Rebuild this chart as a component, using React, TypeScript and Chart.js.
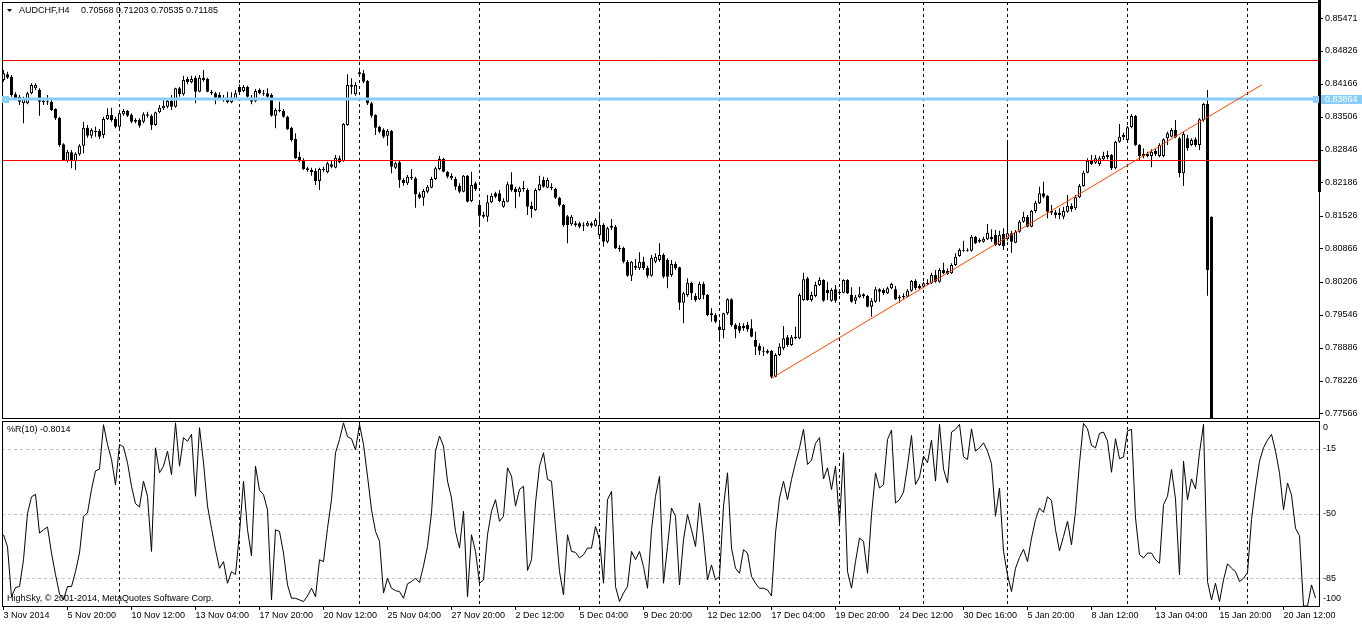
import React, { useEffect, useRef } from "react";
import { Chart, registerables } from "chart.js";

Chart.register(...registerables);

// ---------------- data (AUDCHF H4) ----------------
const opens = [
  0.84246,0.84359,0.84313,0.83959,0.83913,0.83779,0.83779,0.83979,0.84079,0.84046,
  0.83826,0.83813,0.83813,0.83666,0.83493,0.82959,0.82626,0.82799,0.82626,0.82759,
  0.82933,0.83293,0.83133,0.83226,0.83226,0.83146,0.83466,0.83546,0.83466,0.83313,
  0.83559,0.83626,0.83546,0.83446,0.83446,0.83413,0.83559,0.83533,0.83346,0.83599,
  0.83679,0.83713,0.83826,0.83713,0.84079,0.83959,0.84266,0.84199,0.84293,0.84013,
  0.84293,0.84266,0.84013,0.83979,0.83946,0.83893,0.83893,0.83799,0.83866,0.84106,
  0.84026,0.84106,0.83893,0.83826,0.84046,0.83979,0.83979,0.83946,0.83533,0.83646,
  0.83626,0.83513,0.83293,0.83066,0.82713,0.82646,0.82479,0.82446,0.82426,0.82226,
  0.82466,0.82399,0.82559,0.82493,0.82679,0.82626,0.83346,0.84146,0.83959,0.84359,
  0.84379,0.84226,0.83779,0.83546,0.83313,0.83246,0.83133,0.83226,0.82493,0.82599,
  0.82246,0.82179,0.82313,0.82279,0.81959,0.81893,0.82013,0.82093,0.82266,0.82466,
  0.82666,0.82413,0.82333,0.82266,0.82133,0.82013,0.82333,0.81826,0.82179,0.81746,
  0.81546,0.81513,0.81799,0.81979,0.81979,0.81713,0.81813,0.82159,0.82066,0.81999,
  0.82066,0.82046,0.81733,0.81646,0.82046,0.82246,0.82093,0.82113,0.82066,0.81893,
  0.81746,0.81519,0.81359,0.81379,0.81379,0.81346,0.81333,0.81379,0.81333,0.81146,
  0.81346,0.81013,0.81333,0.81313,0.80893,0.80893,0.80613,0.80333,0.80533,0.80479,
  0.80613,0.80493,0.80333,0.80613,0.80646,0.80746,0.80646,0.80346,0.80566,0.80499,
  0.79793,0.79946,0.80193,0.79926,0.79859,0.80166,0.79946,0.79579,0.79546,0.79313,
  0.79246,0.79579,0.79859,0.79346,0.79326,0.79326,0.79346,0.79279,0.79046,0.78926,
  0.78833,0.78833,0.78833,0.78313,0.78746,0.78879,0.79099,0.78946,0.79113,0.79079,
  0.79846,0.80279,0.79846,0.79926,0.80146,0.80246,0.80046,0.79833,0.80059,0.80013,
  0.79993,0.80246,0.79946,0.79833,0.79899,0.79959,0.79926,0.79713,0.79813,0.80059,
  0.80046,0.79979,0.80079,0.80059,0.79913,0.79926,0.79913,0.80033,0.80226,0.80126,
  0.80113,0.80166,0.80179,0.80346,0.80213,0.80446,0.80426,0.80379,0.80546,0.80726,
  0.80846,0.80846,0.80833,0.81113,0.81046,0.81013,0.81059,0.81113,0.81146,0.80946,
  0.81166,0.81059,0.81179,0.80993,0.81213,0.81413,0.81513,0.81313,0.81626,0.81779,
  0.81979,0.81926,0.81626,0.81599,0.81593,0.81513,0.81613,0.81726,0.81679,0.81899,
  0.82126,0.82393,0.82633,0.82593,0.82566,0.82659,0.82746,0.82746,0.82479,0.83013,
  0.83099,0.83046,0.83299,0.83526,0.82946,0.82726,0.82766,0.82726,0.82833,0.82726,
  0.82726,0.83079,0.83113,0.83246,0.83079,0.82379,0.83079,0.82946,0.83059,0.82946,
  0.83446,0.83766,0.81513,0.72000,0.72500,0.72000,0.71800,0.71500,0.71200,0.71000,
  0.70800,0.70900,0.71000,0.71600,0.72000,0.72300,0.72500,0.72600,0.72700,0.72500,
  0.72200,0.71700,0.71900,0.71600,0.71200,0.71100,0.70600,0.70570,0.70568,
];

const highs = [
  0.84446,0.84413,0.84346,0.83999,0.83946,0.83913,0.84013,0.84179,0.84179,0.84079,
  0.83893,0.83946,0.83846,0.83679,0.83513,0.82979,0.82846,0.82846,0.82799,0.82959,
  0.83413,0.83346,0.83279,0.83313,0.83266,0.83513,0.83679,0.83693,0.83513,0.83613,
  0.83666,0.83646,0.83579,0.83479,0.83479,0.83599,0.83613,0.83559,0.83613,0.83746,
  0.83879,0.83879,0.83946,0.84093,0.84113,0.84333,0.84313,0.84333,0.84333,0.84346,
  0.84446,0.84293,0.84046,0.84013,0.83999,0.83946,0.84013,0.83999,0.84046,0.84159,
  0.84146,0.84133,0.83946,0.84066,0.84079,0.84046,0.84079,0.83979,0.83679,0.83813,
  0.83666,0.83533,0.83313,0.83179,0.82813,0.82679,0.82513,0.82493,0.82479,0.82493,
  0.82513,0.82613,0.82626,0.82746,0.82733,0.83379,0.84359,0.84279,0.84199,0.84446,
  0.84446,0.84246,0.83813,0.83559,0.83333,0.83279,0.83266,0.83246,0.82613,0.82626,
  0.82279,0.82346,0.82466,0.82313,0.81999,0.82066,0.82146,0.82313,0.82513,0.82726,
  0.82693,0.82426,0.82379,0.82313,0.82179,0.82346,0.82346,0.82413,0.82213,0.81813,
  0.81613,0.81946,0.81979,0.82013,0.82046,0.81879,0.82213,0.82399,0.82113,0.82113,
  0.82226,0.82079,0.81813,0.82079,0.82333,0.82313,0.82293,0.82179,0.82093,0.81913,
  0.81766,0.81546,0.81546,0.81426,0.81413,0.81399,0.81426,0.81413,0.81479,0.81546,
  0.81379,0.81313,0.81466,0.81346,0.80946,0.80913,0.80646,0.80626,0.80666,0.80799,
  0.80713,0.80533,0.80746,0.80779,0.80979,0.80779,0.80679,0.80646,0.80613,0.80513,
  0.80013,0.80279,0.80213,0.79979,0.80213,0.80213,0.79966,0.79679,0.79579,0.79379,
  0.79593,0.79879,0.79879,0.79379,0.79393,0.79379,0.79413,0.79459,0.79213,0.78979,
  0.78913,0.78859,0.78846,0.78779,0.78979,0.79326,0.79146,0.79146,0.79313,0.79979,
  0.80393,0.80313,0.80013,0.80213,0.80299,0.80259,0.80213,0.80079,0.80146,0.80059,
  0.80259,0.80259,0.80099,0.79946,0.80113,0.79979,0.79946,0.79879,0.80113,0.80079,
  0.80079,0.80113,0.80193,0.80126,0.79946,0.79979,0.80059,0.80246,0.80259,0.80166,
  0.80213,0.80259,0.80393,0.80446,0.80479,0.80593,0.80479,0.80579,0.80779,0.80879,
  0.81033,0.80879,0.81146,0.81126,0.81079,0.81113,0.81366,0.81259,0.81246,0.81233,
  0.81279,0.83046,0.81233,0.81246,0.81446,0.81613,0.81546,0.81646,0.81833,0.82113,
  0.82213,0.81946,0.81746,0.81646,0.81679,0.81713,0.81946,0.81779,0.81946,0.82166,
  0.82433,0.82679,0.82746,0.82746,0.82726,0.82813,0.82833,0.82766,0.83033,0.83366,
  0.83193,0.83326,0.83566,0.83546,0.82966,0.82879,0.82813,0.82859,0.82879,0.82979,
  0.83079,0.83213,0.83279,0.83446,0.83113,0.83213,0.83146,0.83079,0.83099,0.83479,
  0.83793,0.84046,0.81520,0.73500,0.73200,0.72800,0.72500,0.72200,0.72000,0.71800,
  0.71500,0.71400,0.71800,0.72200,0.72500,0.72700,0.72900,0.73000,0.72900,0.72700,
  0.72400,0.72100,0.72000,0.71700,0.71400,0.71200,0.70800,0.71100,0.71203,
];

const lows = [
  0.84213,0.84266,0.83913,0.83846,0.83746,0.83379,0.83759,0.83959,0.84046,0.83533,
  0.83746,0.83746,0.83626,0.83446,0.82913,0.82626,0.82599,0.82479,0.82446,0.82733,
  0.82779,0.83093,0.83079,0.83113,0.83066,0.83079,0.83446,0.83413,0.83279,0.83279,
  0.83533,0.83506,0.83379,0.83379,0.83293,0.83379,0.83493,0.83246,0.83333,0.83579,
  0.83646,0.83679,0.83646,0.83693,0.83913,0.83933,0.84159,0.84179,0.83779,0.83999,
  0.84213,0.83999,0.83946,0.83759,0.83846,0.83813,0.83779,0.83779,0.83846,0.83959,
  0.83999,0.83893,0.83759,0.83799,0.83959,0.83933,0.83893,0.83513,0.83279,0.83599,
  0.83493,0.83246,0.83013,0.82666,0.82599,0.82446,0.82413,0.82333,0.82146,0.82046,
  0.82399,0.82379,0.82479,0.82479,0.82579,0.82613,0.83333,0.83959,0.83933,0.84333,
  0.84179,0.83746,0.83493,0.83146,0.83179,0.83079,0.82933,0.82379,0.82466,0.82093,
  0.82133,0.82146,0.82246,0.81693,0.81866,0.81733,0.81979,0.82079,0.82246,0.82446,
  0.82399,0.82279,0.82246,0.82046,0.81979,0.81999,0.81799,0.81799,0.82026,0.81313,
  0.81479,0.81413,0.81779,0.81879,0.81799,0.81693,0.81799,0.82013,0.81679,0.81913,
  0.82013,0.81546,0.81493,0.81626,0.82026,0.82093,0.82079,0.82046,0.81866,0.81713,
  0.81313,0.80979,0.81333,0.81313,0.81279,0.81226,0.81313,0.81293,0.81313,0.81113,
  0.80913,0.80979,0.81246,0.80866,0.80813,0.80579,0.80313,0.80226,0.80446,0.80446,
  0.80446,0.80293,0.80313,0.80579,0.80613,0.80279,0.80079,0.80313,0.80446,0.79646,
  0.79379,0.79913,0.79846,0.79813,0.79846,0.79859,0.79526,0.79413,0.79379,0.79013,
  0.79079,0.79546,0.79313,0.79079,0.79179,0.79233,0.79213,0.79099,0.78746,0.78746,
  0.78726,0.78766,0.78279,0.78299,0.78726,0.78846,0.78913,0.78926,0.79059,0.79059,
  0.79833,0.79833,0.79813,0.79899,0.80126,0.79813,0.79846,0.79813,0.79793,0.79946,
  0.79979,0.79966,0.79793,0.79766,0.79879,0.79879,0.79699,0.79513,0.79793,0.79813,
  0.79946,0.79966,0.80059,0.79846,0.79793,0.79859,0.79899,0.80013,0.80046,0.80059,
  0.80079,0.80146,0.80166,0.80193,0.80193,0.80359,0.80346,0.80366,0.80526,0.80713,
  0.80813,0.80813,0.80813,0.80966,0.80993,0.80993,0.81046,0.81013,0.80926,0.80926,
  0.80846,0.81033,0.80793,0.80979,0.81193,0.81393,0.81299,0.81299,0.81593,0.81766,
  0.81879,0.81479,0.81546,0.81479,0.81459,0.81459,0.81593,0.81613,0.81646,0.81879,
  0.82113,0.82379,0.82546,0.82566,0.82526,0.82646,0.82659,0.82446,0.82459,0.82993,
  0.83046,0.83033,0.83279,0.82926,0.82646,0.82679,0.82699,0.82499,0.82726,0.82699,
  0.82699,0.82946,0.83099,0.83079,0.82299,0.82126,0.82833,0.82926,0.82913,0.82846,
  0.83413,0.79933,0.70000,0.69500,0.71500,0.71200,0.71000,0.70800,0.70500,0.70400,
  0.70300,0.70400,0.70800,0.71300,0.71700,0.72000,0.72200,0.72300,0.72300,0.72000,
  0.71500,0.71500,0.71400,0.71000,0.70800,0.70500,0.70400,0.70500,0.70535,
];

const closes = [
  0.84379,0.84293,0.83946,0.83879,0.83813,0.83879,0.83979,0.84146,0.84146,0.83813,
  0.83799,0.83799,0.83646,0.83479,0.82946,0.82646,0.82813,0.82646,0.82773,0.82933,
  0.83293,0.83133,0.83246,0.83199,0.83113,0.83466,0.83546,0.83446,0.83313,0.83579,
  0.83626,0.83533,0.83413,0.83413,0.83333,0.83559,0.83533,0.83346,0.83599,0.83693,
  0.83733,0.83826,0.83713,0.84079,0.83959,0.84246,0.84199,0.84266,0.84013,0.84293,
  0.84246,0.84013,0.83979,0.83893,0.83879,0.83866,0.83799,0.83879,0.83979,0.83999,
  0.84106,0.83913,0.83813,0.84026,0.83979,0.83959,0.83913,0.83533,0.83646,0.83626,
  0.83513,0.83266,0.83046,0.82679,0.82626,0.82466,0.82446,0.82399,0.82226,0.82466,
  0.82446,0.82579,0.82513,0.82693,0.82599,0.83366,0.84146,0.84113,0.84146,0.84399,
  0.84213,0.83779,0.83533,0.83293,0.83213,0.83113,0.83226,0.82513,0.82579,0.82246,
  0.82179,0.82313,0.82279,0.81959,0.81893,0.82026,0.82113,0.82266,0.82479,0.82666,
  0.82413,0.82313,0.82279,0.82113,0.82013,0.82333,0.81813,0.82146,0.82066,0.81533,
  0.81513,0.81799,0.81933,0.81913,0.81826,0.81826,0.82159,0.82046,0.81999,0.82079,
  0.82079,0.81713,0.81666,0.82046,0.82159,0.82113,0.82246,0.82079,0.81893,0.81746,
  0.81346,0.81346,0.81513,0.81346,0.81313,0.81333,0.81393,0.81333,0.81446,0.81346,
  0.81013,0.81279,0.81293,0.80879,0.80866,0.80613,0.80333,0.80613,0.80493,0.80613,
  0.80479,0.80333,0.80693,0.80713,0.80746,0.80313,0.80313,0.80566,0.80479,0.79793,
  0.79979,0.80193,0.79979,0.79846,0.80166,0.79946,0.79546,0.79546,0.79413,0.79246,
  0.79579,0.79859,0.79346,0.79259,0.79233,0.79279,0.79259,0.79113,0.78913,0.78833,
  0.78813,0.78793,0.78313,0.78746,0.78913,0.79079,0.78946,0.79099,0.79079,0.79946,
  0.80259,0.79846,0.79946,0.80146,0.80246,0.79833,0.79979,0.80046,0.79833,0.79979,
  0.80246,0.79979,0.79813,0.79899,0.79959,0.79926,0.79713,0.79833,0.80059,0.80013,
  0.79979,0.80079,0.80166,0.79859,0.79879,0.79899,0.80033,0.80226,0.80079,0.80079,
  0.80179,0.80193,0.80346,0.80213,0.80446,0.80379,0.80366,0.80546,0.80713,0.80846,
  0.80833,0.80833,0.81113,0.80979,0.81013,0.81073,0.81193,0.81059,0.80946,0.81146,
  0.80926,0.81179,0.81013,0.81213,0.81413,0.81513,0.81313,0.81626,0.81793,0.81979,
  0.81913,0.81613,0.81593,0.81546,0.81546,0.81626,0.81726,0.81659,0.81899,0.82126,
  0.82393,0.82633,0.82566,0.82679,0.82679,0.82726,0.82699,0.82479,0.83013,0.83113,
  0.83146,0.83299,0.83526,0.82946,0.82726,0.82766,0.82726,0.82813,0.82766,0.82946,
  0.83059,0.83179,0.83246,0.83099,0.82379,0.83166,0.82879,0.83046,0.82946,0.83459,
  0.83766,0.80446,0.72000,0.72500,0.72000,0.71800,0.71500,0.71200,0.71000,0.70800,
  0.70900,0.71000,0.71600,0.72000,0.72300,0.72500,0.72600,0.72700,0.72500,0.72200,
  0.71700,0.71900,0.71600,0.71200,0.71100,0.70600,0.70570,0.71000,0.71185,
];

// Williams %R(10)
const wpr = [
  -61.5,-68,-95,-90,-89.5,-75,-50,-41,-39.6,-60.6,
  -58.8,-57.3,-71.4,-83,-93.5,-96.7,-89.5,-89.5,-81.4,-71.4,
  -51.5,-49.7,-37,-27,-26,-2,-12.7,-20.8,-34.4,-12.7,
  -14,-22.6,-35.3,-44.7,-46.5,-32.5,-40.7,-70.5,-14.5,-28,
  -24.4,-16.3,-29,-1,-24.4,-9,-11,-7.2,-40.7,-3.6,
  -22.6,-46,-58,-69.6,-79.6,-76,-87.7,-81.4,-83,-60.6,
  -32.5,-58.8,-72.9,-24.4,-37.4,-39.8,-48,-96.7,-58.8,-59.7,
  -71.4,-88.6,-95.8,-95.8,-96.7,-97.6,-94.6,-90.4,-95,-75,
  -76,-58,-42.5,-17.2,-10,-1,-8.5,-9.6,-15.7,-1.8,
  -12.7,-29.8,-48,-59.7,-65,-93,-85,-90.4,-91.7,-92.2,
  -95.8,-88,-86.8,-85,-87.3,-78.3,-67.8,-49.7,-16.3,-8.1,
  -13.6,-32.5,-41.6,-59.7,-68.7,-48.8,-95,-61.5,-70.5,-87.7,
  -85.9,-61.5,-48.8,-42.5,-54.2,-51.5,-25.3,-29.8,-46,-37,
  -35.3,-80.8,-75,-44.3,-24.4,-17.2,-31.6,-32.5,-57,-81.4,
  -94,-61.5,-70.5,-71,-74,-72.3,-68.7,-68.7,-57,-64,
  -87.7,-42.5,-38,-89.5,-97.6,-93,-89.5,-70.5,-75,-70.5,
  -78.7,-90.4,-58.8,-40.7,-30,-87.7,-67.8,-47,-51.5,-88.6,
  -64.2,-50.6,-58.8,-67.8,-44.3,-63.3,-85.9,-77.8,-85.9,-84,
  -46,-28,-68.7,-79.6,-82.3,-69.6,-71.4,-84,-87.7,-90.4,
  -90.4,-91.3,-94.6,-60.6,-41.6,-32.5,-42.5,-31.6,-22.6,-14.5,
  -4.5,-23.5,-21.2,-12.1,-9,-31.3,-25.3,-37,-24.4,-55,
  -17.2,-81.4,-90.4,-76,-63.3,-65,-82.3,-50.6,-28,-36.2,
  -34.4,-10,-4.9,-44.3,-42.5,-38.5,-24.4,-7.8,-34.4,-30.2,
  -19,-22.6,-10.3,-32.5,-1.8,-25.9,-33.5,-6,-4.5,-1.8,
  -19.4,-20.8,-4.2,-16.3,-14.5,-11.8,-16.3,-23.1,-51.5,-36.2,
  -70.5,-83.2,-92.2,-79.6,-73.8,-69.3,-76,-63.3,-53.3,-47,
  -49.4,-41,-42.9,-58.8,-70.2,-62.4,-54.2,-66.9,-48.8,-22.6,
  -1.3,-4.2,-13.2,-14.5,-6.7,-6,-10.8,-27.7,-9.6,-20.4,
  -19.4,-5.4,-4.5,-52.4,-72.3,-74,-71.4,-71.4,-75,-76.9,
  -45.2,-40.7,-26.2,-42.1,-83.2,-21.7,-42.5,-31.3,-36.7,-17.2,
  -1.8,-86.8,-96.7,-87.7,-97.6,-85.9,-77.2,-79.6,-81.4,-86.8,
  -85,-81.9,-53.3,-36.2,-21.7,-14.5,-10.3,-7.2,-16.3,-28,
  -48,-33.5,-40,-58,-62,-100,-100,-88.6,-95.6,
];

// time axis labels, one every 16 bars
const xLabels = [
  "3 Nov 2014", "5 Nov 20:00", "10 Nov 12:00", "13 Nov 04:00", "17 Nov 20:00",
  "20 Nov 12:00", "25 Nov 04:00", "27 Nov 20:00", "2 Dec 12:00", "5 Dec 04:00",
  "9 Dec 20:00", "12 Dec 12:00", "17 Dec 04:00", "19 Dec 20:00", "24 Dec 12:00",
  "30 Dec 16:00", "5 Jan 20:00", "8 Jan 12:00", "13 Jan 04:00", "15 Jan 20:00",
  "20 Jan 12:00",
];
const LABEL_STEP = 16;

// bar indices of the dotted period separators
const separatorBars = [29, 59, 89, 119, 149, 179, 209, 230, 251, 281, 311];

// price axis
const priceTicks = [
  0.77566, 0.78226, 0.78886, 0.79546, 0.80206, 0.80866, 0.81526,
  0.82186, 0.82846, 0.83506, 0.84166, 0.84826, 0.85471,
];
const priceMin = 0.77486;
const priceMax = 0.85806;

// drawn objects
const redLevels = [0.84636, 0.82636];
const blueLevel = 0.83864;
const trendBars = [192, 314.6];
const trendPrices = [0.7828, 0.8415];

// %R axis
const wprTicks = [0, -15, -50, -85, -100];
const wprLevels = [-15, -50, -85];

const headerSymbol = "AUDCHF,H4";
const headerPrices = "0.70568 0.71203 0.70535 0.71185";
const wprTitle = "%R(10) -0.8014";
const copyright = "HighSky, \u00A9 2001-2014, MetaQuotes Software Corp.";

// ---------------- layout / style ----------------
const FONT = "'Liberation Sans', Arial, sans-serif";
const W = 1362;
const TOP_H = 420;
const BOT_H = 204;
const AXIS_W = 43;
const X_MIN = -0.375;
const X_MAX = 328.875;
const BLUE = "#87CEFA";

Chart.defaults.font.family = FONT;

function drawSeparators(chart: any) {
  const { ctx, chartArea: a, scales } = chart;
  const x = scales.x;
  ctx.save();
  ctx.beginPath();
  ctx.rect(a.left, a.top, a.right - a.left, a.bottom - a.top);
  ctx.clip();
  ctx.strokeStyle = "#000";
  ctx.lineWidth = 1;
  ctx.setLineDash([3, 3]);
  for (const b of separatorBars) {
    const px = Math.floor(x.getPixelForValue(b)) + 0.5;
    ctx.beginPath();
    ctx.moveTo(px, a.top);
    ctx.lineTo(px, a.bottom);
    ctx.stroke();
  }
  ctx.restore();
}

function drawFrame(chart: any) {
  const { ctx, chartArea: a } = chart;
  ctx.save();
  ctx.strokeStyle = "#000";
  ctx.lineWidth = 1;
  ctx.setLineDash([]);
  const l = Math.round(a.left), t = Math.round(a.top);
  const r = Math.round(a.right), b = Math.round(a.bottom);
  ctx.strokeRect(l + 0.5, t + 0.5, r - l, b - t);
  ctx.restore();
}

const mainDeco = {
  id: "mainDeco",
  beforeDatasetsDraw(chart: any) {
    drawSeparators(chart);
  },
  afterDraw(chart: any) {
    const { ctx, chartArea: a, scales } = chart;
    const y = scales.y;
    drawFrame(chart);
    ctx.save();
    // thick part of the price-scale border
    ctx.fillStyle = "#000";
    ctx.fillRect(Math.round(a.right) - 1, 0, 3, 192);
    // blue line markers and price label
    const yb = Math.round(y.getPixelForValue(blueLevel));
    ctx.fillStyle = BLUE;
    ctx.fillRect(Math.round(a.left), yb - 3, 7, 7);
    ctx.fillRect(Math.round(a.right) - 6, yb - 3, 6, 7);
    ctx.fillRect(Math.round(a.right) + 2, yb - 4, W - Math.round(a.right) - 2, 9);
    ctx.fillStyle = "#fff";
    ctx.fillRect(Math.round(a.left) + 3, yb, 1, 1);
    ctx.fillRect(Math.round(a.right) - 3, yb, 1, 1);
    ctx.font = `9px ${FONT}`;
    ctx.textBaseline = "middle";
    ctx.textAlign = "left";
    ctx.fillText(blueLevel.toFixed(5), Math.round(a.right) + 6, yb + 1);
    // header
    ctx.fillStyle = "#000";
    ctx.beginPath();
    ctx.moveTo(7, 9);
    ctx.lineTo(12, 9);
    ctx.lineTo(9.5, 12);
    ctx.closePath();
    ctx.fill();
    ctx.fillText(headerSymbol, 19, 11);
    ctx.fillText(headerPrices, 81, 11);
    ctx.restore();
  },
};

const wprDeco = {
  id: "wprDeco",
  beforeDatasetsDraw(chart: any) {
    const { ctx, chartArea: a, scales } = chart;
    const y = scales.y;
    ctx.save();
    ctx.strokeStyle = "#c0c0c0";
    ctx.lineWidth = 1;
    ctx.setLineDash([3, 3]);
    for (const v of wprLevels) {
      const py = Math.round(y.getPixelForValue(v)) + 0.5;
      ctx.beginPath();
      ctx.moveTo(a.left, py);
      ctx.lineTo(a.right, py);
      ctx.stroke();
    }
    ctx.restore();
    drawSeparators(chart);
  },
  afterDraw(chart: any) {
    const { ctx, chartArea: a, scales } = chart;
    const y = scales.y;
    drawFrame(chart);
    ctx.save();
    ctx.fillStyle = "#000";
    ctx.font = `9px ${FONT}`;
    ctx.textBaseline = "middle";
    ctx.textAlign = "left";
    for (const v of wprTicks) {
      let py = y.getPixelForValue(v);
      py = Math.max(a.top + 7, Math.min(a.bottom - 7, py));
      ctx.fillText(String(v), Math.round(a.right) + 4, py);
    }
    ctx.fillText(wprTitle, 7, 10);
    ctx.fillText(copyright, 7, 179);
    ctx.restore();
  },
};

function mainConfig(): any {
  const n = Math.min(opens.length, highs.length, lows.length, closes.length);
  const idx = Array.from({ length: n }, (_, i) => i);
  return {
    type: "bar",
    data: {
      datasets: [
        {
          type: "bar",
          data: idx.map((i) => ({ x: i, y: [lows[i], highs[i]] })),
          backgroundColor: "#000",
          borderWidth: 0,
          barThickness: 1,
          grouped: false,
          inflateAmount: 0,
          clip: 0,
          order: 3,
        },
        {
          type: "bar",
          data: idx.map((i) => ({ x: i, y: [opens[i], closes[i]] })),
          backgroundColor: idx.map((i) => (closes[i] > opens[i] ? "#fff" : "#000")),
          borderColor: "#000",
          borderWidth: 1,
          borderSkipped: false,
          barThickness: 3,
          grouped: false,
          inflateAmount: 0,
          minBarLength: 1,
          clip: 0,
          order: 2,
        },
        ...redLevels.map((v) => ({
          type: "line",
          data: [{ x: X_MIN, y: v }, { x: X_MAX, y: v }],
          borderColor: "#ff0000",
          borderWidth: 1,
          pointRadius: 0,
          order: 1,
        })),
        {
          type: "line",
          data: [{ x: X_MIN, y: blueLevel }, { x: X_MAX, y: blueLevel }],
          borderColor: BLUE,
          borderWidth: 3,
          pointRadius: 0,
          order: 1,
        },
        {
          type: "line",
          data: trendBars.map((b, k) => ({ x: b, y: trendPrices[k] })),
          borderColor: "#ff4500",
          borderWidth: 1,
          pointRadius: 0,
          order: 0,
        },
      ],
    },
    options: {
      animation: false,
      responsive: false,
      devicePixelRatio: 1,
      events: [],
      layout: { padding: { left: 2, top: 2, right: 0, bottom: 2 } },
      plugins: { legend: { display: false }, tooltip: { enabled: false } },
      scales: {
        x: { type: "linear", min: X_MIN, max: X_MAX, offset: false, display: false },
        y: {
          type: "linear",
          position: "right",
          min: priceMin,
          max: priceMax,
          beginAtZero: false,
          afterBuildTicks: (s: any) => {
            s.ticks = priceTicks.map((v) => ({ value: v }));
          },
          afterFit: (s: any) => {
            s.width = AXIS_W;
            s.paddingTop = 0;
            s.paddingBottom = 0;
          },
          grid: { drawOnChartArea: false, drawTicks: true, tickLength: 4, tickColor: "#000", color: "#000" },
          border: { display: false },
          ticks: {
            autoSkip: false,
            padding: 2,
            color: "#000",
            font: { size: 9, family: FONT },
            callback: (v: any) => Number(v).toFixed(5),
          },
        },
      },
    },
    plugins: [mainDeco],
  };
}

function wprConfig(): any {
  return {
    type: "line",
    data: {
      datasets: [
        {
          data: wpr.map((v, i) => ({ x: i, y: v })),
          borderColor: "#000",
          borderWidth: 1,
          pointRadius: 0,
          tension: 0,
          clip: 0,
        },
      ],
    },
    options: {
      animation: false,
      responsive: false,
      devicePixelRatio: 1,
      events: [],
      layout: { padding: { left: 2, top: 1, right: 0, bottom: 0 } },
      plugins: { legend: { display: false }, tooltip: { enabled: false } },
      scales: {
        x: {
          type: "linear",
          position: "bottom",
          min: X_MIN,
          max: X_MAX,
          offset: false,
          afterBuildTicks: (s: any) => {
            s.ticks = xLabels.map((_, k) => ({ value: k * LABEL_STEP }));
          },
          afterFit: (s: any) => {
            s.height = 18;
            s.paddingLeft = 0;
            s.paddingRight = 0;
          },
          grid: { drawOnChartArea: false, drawTicks: true, tickLength: 4, tickColor: "#000", color: "#000" },
          border: { display: false },
          ticks: {
            autoSkip: false,
            maxRotation: 0,
            minRotation: 0,
            align: "start",
            padding: 0,
            color: "#000",
            font: { size: 9, family: FONT },
            callback: (_v: any, i: number) => xLabels[i],
          },
        },
        y: {
          type: "linear",
          position: "right",
          min: -100,
          max: 0,
          afterFit: (s: any) => {
            s.width = AXIS_W;
            s.paddingTop = 0;
            s.paddingBottom = 0;
          },
          grid: { display: false },
          border: { display: false },
          ticks: { display: false },
        },
      },
    },
    plugins: [wprDeco],
  };
}

export default function App() {
  const topRef = useRef<HTMLCanvasElement>(null);
  const botRef = useRef<HTMLCanvasElement>(null);

  useEffect(() => {
    const c1 = new Chart(topRef.current as HTMLCanvasElement, mainConfig());
    const c2 = new Chart(botRef.current as HTMLCanvasElement, wprConfig());
    return () => {
      c1.destroy();
      c2.destroy();
    };
  }, []);

  return (
    <div style={{ position: "fixed", left: 0, top: 0, width: W, height: TOP_H + BOT_H, background: "#fff" }}>
      <canvas
        ref={topRef}
        width={W}
        height={TOP_H}
        style={{ position: "absolute", left: 0, top: 0, width: W, height: TOP_H }}
      />
      <canvas
        ref={botRef}
        width={W}
        height={BOT_H}
        style={{ position: "absolute", left: 0, top: TOP_H, width: W, height: BOT_H }}
      />
    </div>
  );
}
